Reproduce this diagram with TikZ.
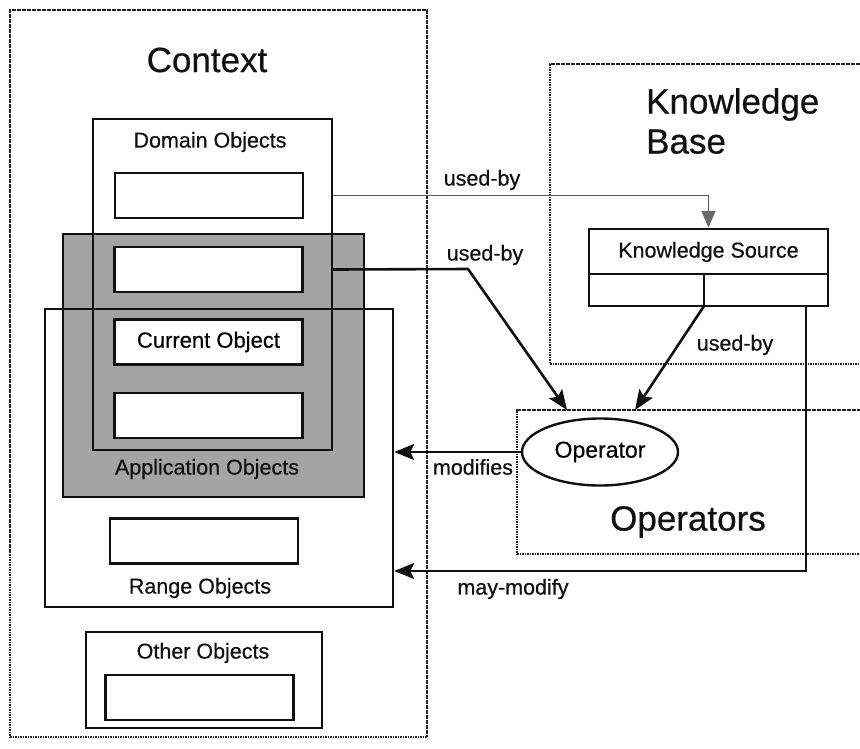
\documentclass[tikz,border=0pt]{standalone}
\usepackage{fontspec}
\setmainfont[FakeBold=0.5]{Liberation Sans}
\usetikzlibrary{arrows.meta,positioning,calc,shapes.geometric}
\definecolor{ink}{HTML}{111111}
\definecolor{shade}{HTML}{A4A4A4}
\definecolor{rule}{HTML}{222222}
\definecolor{tipgray}{HTML}{6A6A6A}
\tikzset{
  region/.style={draw=rule, line width=2pt, dash pattern=on 1.6pt off 0.9pt, inner sep=0pt},
  objbox/.style={draw=ink, line width=2.4pt, inner sep=0pt},
  slot/.style={draw=ink, fill=white, line width=2.4pt, minimum width=188pt,
               minimum height=45pt, inner sep=0pt, font=\fontsize{22}{26}\selectfont},
  lab/.style={font=\fontsize{21.5}{25}\selectfont, text=ink, inner sep=1pt},
  big/.style={font=\fontsize{35}{40}\selectfont, text=ink, inner sep=1pt},
  arrow/.style={-{Stealth[length=20pt,width=16pt,inset=4pt]}, line width=2.6pt, draw=ink},
  thinarrow/.style={-{Triangle[length=17pt,width=14pt,color=tipgray]}, line width=1.6pt, draw=rule!75}
}
\begin{document}
\begin{tikzpicture}[x=1pt,y=-1pt,>=Latex]
        \clip (0,0) rectangle (860,748);
        \fill[white] (0,0) rectangle (860,748);
        % context side
        \node[region,minimum width=417pt,minimum height=727pt] (context) at (218.5,373.5) {};
        \node[big] (contexttitle) at (207,60) {Context};
        \node[objbox,fill=shade,minimum width=301pt,minimum height=263pt] (appobj) at (213.5,365.5) {};
        \node[objbox,minimum width=239pt,minimum height=331pt] (domain) at (212.5,284.5) {};
        \node[objbox,minimum width=348pt,minimum height=298pt] (range) at (219,458) {};
        \node[lab] (domainlab) at (210,142) {Domain Objects};
        \node[slot] (dom1) at (209,195.5) {};
        \node[slot] (dom2) at (208.5,269.5) {};
        \node[slot] (current) at (208.5,342) {Current Object};
        \node[slot] (dom4) at (208.5,415.5) {};
        \node[lab] (applab) at (207,469) {Application Objects};
        \node[slot] (rangeslot) at (204,541) {};
        \node[lab] (rangelab) at (200,588) {Range Objects};
        \node[objbox,minimum width=236pt,minimum height=96pt] (other) at (204,680) {};
        \node[lab] (otherlab) at (203,653) {Other Objects};
        \node[slot] (otherslot) at (199.5,697.5) {};
        % knowledge base side
        \node[region,minimum width=330pt,minimum height=300pt] (kb) at (715,214) {};
        \node[big,align=left,anchor=west] (kbtitle) at (645,121) {Knowledge\\Base};
        \node[objbox,fill=white,minimum width=239pt,minimum height=77pt] (ks) at (708.5,267.5) {};
        \node[lab] (kslab) at (708.5,252) {Knowledge Source};
        \draw[draw=ink,line width=2.4pt] (589,274) -- (828,274);
        \coordinate (ksfoot) at (704,306);
        \coordinate (ksfootR) at (806,306);
        \draw[draw=ink,line width=2.4pt] (704,274) -- (ksfoot);
        % operators
        \node[region,minimum width=360pt,minimum height=144pt] (ops) at (697,482) {};
        \node[big] (opstitle) at (688,522) {Operators};
        \node[ellipse,draw=ink,line width=2.4pt,minimum width=156pt,minimum height=67pt,
              inner sep=0pt,font=\fontsize{23}{27}\selectfont] (op) at (600,452) {Operator};
        % connectors
        \coordinate (bend) at (468,269);
        \coordinate (tipL) at (567,410);
        \coordinate (tipR) at (635,410);
        \coordinate (turn) at (806,571);
        \draw[thinarrow] (domain.east |- dom1) -| (ks.north);
        \draw[arrow] (domain.east |- dom2) -- (bend) -- (tipL);
        \draw[arrow] (ksfoot) -- (tipR);
        \draw[arrow] (op.west) -- (op.west -| range.east);
        \draw[arrow] (ksfootR) -- (turn) -- (turn -| range.east);
        \node[lab] (usedA) at (482,180) {used-by};
        \node[lab] (usedB) at (485,255) {used-by};
        \node[lab] (usedC) at (735,345) {used-by};
        \node[lab] (modlab) at (473,467) {modifies};
        \node[lab] (maylab) at (513,589) {may-modify};
\end{tikzpicture}
\end{document}
